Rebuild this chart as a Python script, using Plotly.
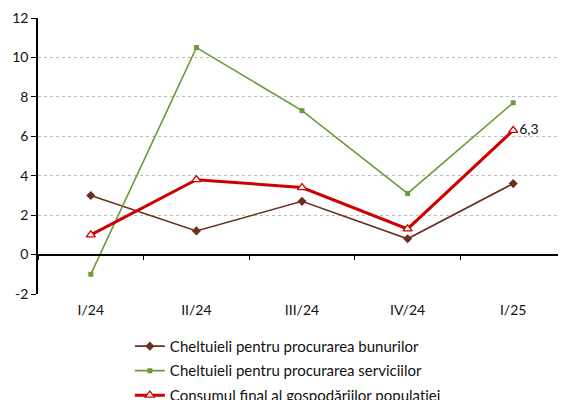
import plotly.graph_objects as go

categories = ["I/24", "II/24", "III/24", "IV/24", "I/25"]
goods = [3.0, 1.2, 2.7, 0.8, 3.6]
services = [-1.0, 10.5, 7.3, 3.1, 7.7]
consumption = [1.0, 3.8, 3.4, 1.3, 6.3]
consumption_labels = ["", "", "", "", "6,3"]
y_ticks = [-2, 0, 2, 4, 6, 8, 10, 12]
y_tick_labels = ["-2", "0", "2", "4", "6", "8", "10", "12"]

FONT = "Lato"

fig = go.Figure()
fig.add_trace(go.Scatter(
    x=categories, y=goods, mode="lines+markers",
    name="Cheltuieli pentru procurarea bunurilor", legendgroup="a",
    line=dict(color="#6B2F22", width=1.6),
    marker=dict(symbol="diamond", size=7, color="#6B2F22"),
))
fig.add_trace(go.Scatter(
    x=categories, y=services, mode="lines+markers",
    name="Cheltuieli pentru procurarea serviciilor", legendgroup="b",
    line=dict(color="#6B9A3B", width=1.6),
    marker=dict(symbol="square", size=5, color="#6B9A3B"),
))
fig.add_trace(go.Scatter(
    x=categories, y=consumption, mode="lines+markers+text",
    name="Consumul final al gospodăriilor populației", legendgroup="c",
    line=dict(color="#D00000", width=3),
    marker=dict(symbol="triangle-up", size=8, color="white",
                line=dict(color="#D00000", width=1.3)),
    text=consumption_labels, textposition="middle right",
    textfont=dict(family=FONT, size=14, color="#111"),
))
# invisible trace for the zero-line axis carrying the boundary ticks
fig.add_trace(go.Scatter(x=categories, y=[None]*5, xaxis="x2",
                         showlegend=False, hoverinfo="skip"))

fig.update_layout(
    width=558, height=392,
    margin=dict(l=30, r=0, t=10, b=106, autoexpand=False),
    plot_bgcolor="white", paper_bgcolor="white",
    font=dict(family=FONT, size=14, color="#111"),
    showlegend=True,
    legend=dict(x=0.174, y=-0.13, xanchor="left", yanchor="top",
                orientation="v", font=dict(family=FONT, size=15, color="#111"),
                tracegroupgap=2, itemwidth=30),
    xaxis=dict(type="category", categoryorder="array", categoryarray=categories,
               range=[-0.5, 4.5], showgrid=False, showline=False,
               ticks="", ticklabelstandoff=6,
               tickfont=dict(family=FONT, size=14, color="#111"),
               zeroline=False, automargin=False),
    xaxis2=dict(type="category", categoryorder="array", categoryarray=categories,
                range=[-0.5, 4.5], overlaying="x", anchor="free",
                position=2/14, side="bottom", showline=True, linecolor="black",
                linewidth=1.5, ticks="outside", tickson="boundaries",
                ticklen=5, tickcolor="black", tickwidth=1.3,
                showticklabels=False, showgrid=False, automargin=False),
    yaxis=dict(range=[-2, 12], tickvals=y_ticks, ticktext=y_tick_labels,
               showgrid=True,
               gridcolor="#BBBBBB", griddash="dot", gridwidth=1,
               showline=True, linecolor="black", linewidth=1.5,
               ticks="outside", ticklen=5, tickcolor="black",
               zeroline=False, automargin=False,
               tickfont=dict(family=FONT, size=14, color="#111")),
)

fig.write_html("out.html")
